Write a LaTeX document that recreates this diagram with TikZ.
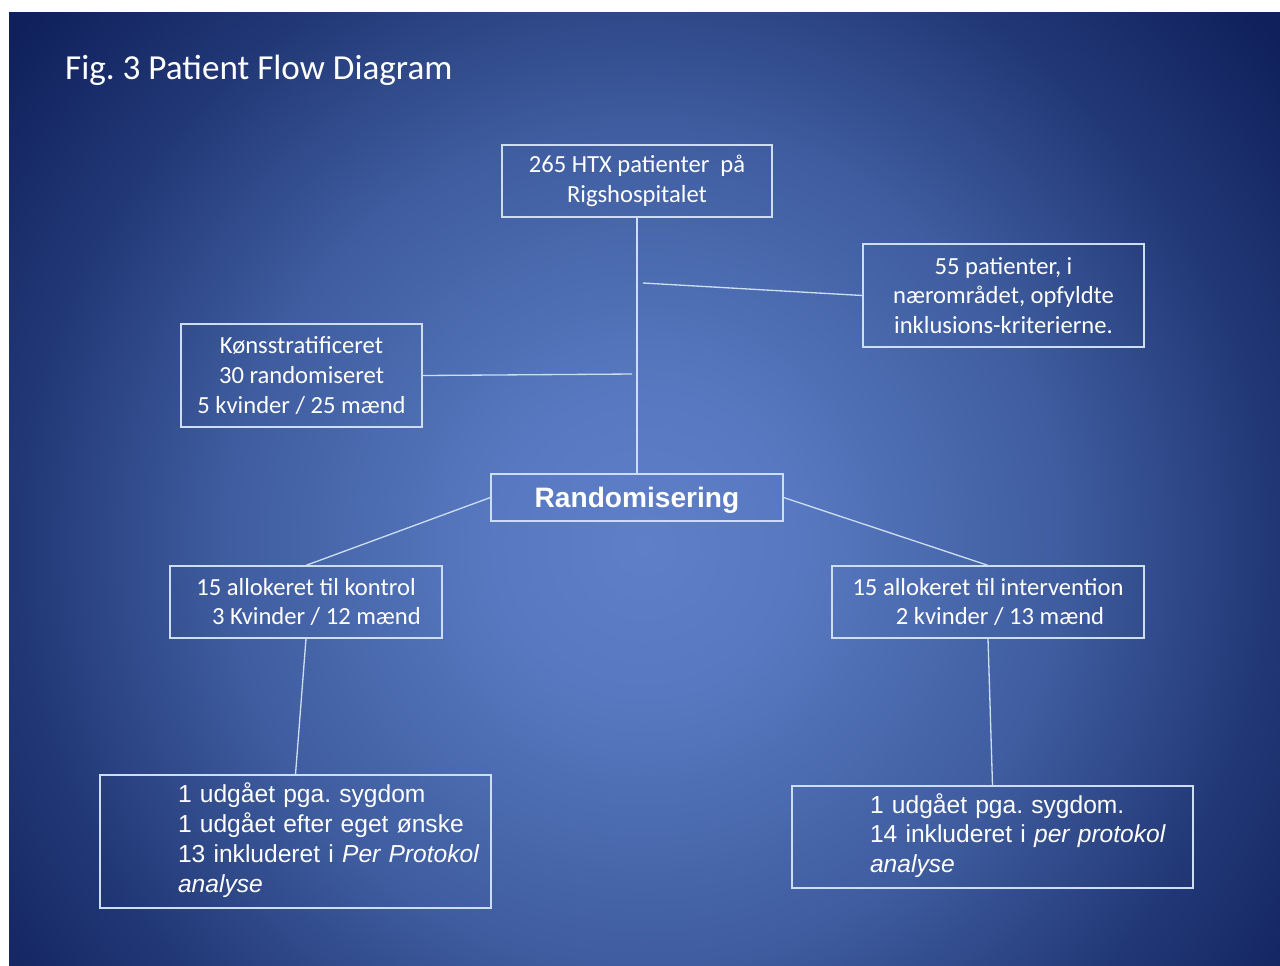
\documentclass[tikz,border=0pt]{standalone}
\usepackage{fontspec}
\setmainfont{Carlito}
\newfontfamily\arialfont{Liberation Sans}
\usepackage{tikz}
\usetikzlibrary{positioning}
\definecolor{bgcenter}{RGB}{95,128,200}
\definecolor{bginner}{RGB}{88,121,193}
\definecolor{bgmid}{RGB}{62,92,158}
\definecolor{bgedge}{RGB}{34,56,118}
\definecolor{bgcorner}{RGB}{15,32,92}
\definecolor{boxline}{RGB}{205,222,242}
\pgfdeclareradialshading{slideglow}{\pgfpoint{0bp}{0bp}}{color(0bp)=(bgcenter); color(85bp)=(bginner); color(240bp)=(bgmid); color(355bp)=(bgedge); color(460bp)=(bgcorner); color(500bp)=(bgcorner)}
\tikzset{
    slide box/.style={rectangle, draw=boxline, line width=0.75pt, inner sep=0pt, text=white, align=center, font=\fontsize{14}{17}\selectfont},
    step box/.style={slide box, minimum width=#1},
    rand box/.style={slide box, text depth=0pt, font=\arialfont\fontsize{16}{19}\selectfont\bfseries},
    drop box/.style={slide box, align=left, font=\arialfont\fontsize{14}{17}\selectfont},
    link/.style={draw=boxline, line width=0.75pt},
    title text/.style={anchor=west, text=white, font=\fontsize{20}{24}\selectfont}
}
\frenchspacing

\begin{document}
\begin{tikzpicture}[x=0.02cm, y=-0.02cm]
    \useasboundingbox (0,0) rectangle (1280,965);
    % Slide background
    \begin{scope}
        \clip (9,12) rectangle (1280,965);
        \fill[bgcorner] (9,12) rectangle (1280,965);
        \node[inner sep=0pt] (glow) at (644,545) {\pgfuseshading{slideglow}};
    \end{scope}
    \node[title text] (title) at (59,70) {Fig. 3 Patient Flow Diagram};

    % Recruitment
    \node[step box=5.4cm, minimum height=1.44cm] (htx) at (637,181) {265 HTX patienter~~på\\Rigshospitalet};
    \node[step box=5.62cm, minimum height=2.06cm] (nearby) at (1003.5,295.5) {55 patienter, i\\nærområdet, opfyldte\\inklusions-kriterierne.};
    \node[step box=4.82cm, minimum height=2.06cm] (strat) at (301.5,375.5) {Kønsstratificeret\\30 randomiseret\\5 kvinder / 25 mænd};
    \node[rand box, minimum width=5.84cm, minimum height=0.94cm] (rand) at (637,497.5) {Randomisering};

    % Allocation
    \node[step box=5.44cm, minimum height=1.44cm] (ctrl) at (306,602) {15 allokeret til kontrol\\\hspace*{0.42cm}3 Kvinder / 12 mænd};
    \node[step box=6.24cm, minimum height=1.44cm] (intv) at (988,602) {15 allokeret til intervention\\\hspace*{0.48cm}2 kvinder / 13 mænd};

    % Follow-up
    \node[drop box, text width=7.82cm, minimum height=2.66cm] (dropctrl) at (295.5,841.5) {\hspace*{1.56cm}\raisebox{-0.06cm}{\begin{tabular}{@{}l@{}}1 udgået pga. sygdom\\1 udgået efter eget ønske\\13 inkluderet i \textit{Per Protokol}\\\textit{analyse}\end{tabular}}};
    \node[drop box, text width=8.02cm, minimum height=2.04cm] (dropintv) at (992.5,837) {\hspace*{1.56cm}\raisebox{-0.03cm}{\begin{tabular}{@{}l@{}}1 udgået pga. sygdom.\\14 inkluderet i \textit{per protokol}\\\textit{analyse}\end{tabular}}};

    % Connectors
    \coordinate (jn) at (643,283);
    \coordinate (js) at (632,374);
    \draw[link] (htx) -- (rand);
    \draw[link] (nearby.west) -- (jn);
    \draw[link] (strat.east) -- (js);
    \draw[link] (rand.west) -- (ctrl.north);
    \draw[link] (rand.east) -- (intv.north);
    \draw[link] (ctrl.south) -- (dropctrl.north);
    \draw[link] (intv.south) -- (dropintv.north);
\end{tikzpicture}
\end{document}
